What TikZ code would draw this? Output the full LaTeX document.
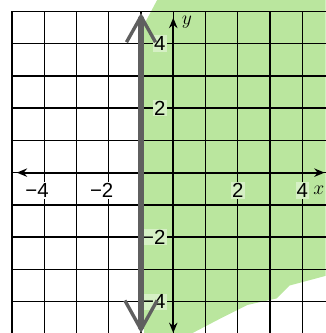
\documentclass[tikz,border=0pt]{standalone}
\usepackage{amsmath}
\usepackage{fontspec}
\setsansfont{Liberation Sans}
\usepackage{tikz}
\usetikzlibrary{arrows.meta}
\definecolor{pencilgreen}{RGB}{186,230,158}
\definecolor{pencilgray}{RGB}{95,95,95}
\newcommand{\negsign}{\char"2212\relax}
\tikzset{
    grid line/.style={black, line width=1.2pt},
    axis line/.style={black, line width=1.8pt, {Stealth[length=3.2mm,width=2.6mm]}-{Stealth[length=3.2mm,width=2.6mm]}},
    boundary line/.style={pencilgray, line width=4.5pt, line cap=round,
        {Straight Barb[length=9mm,width=10mm,line width=3pt]}-{Straight Barb[length=8mm,width=9mm,line width=3pt]}},
    tick label/.style={font=\sffamily\fontsize{18}{18}\selectfont, fill=white, inner sep=1pt},
    shaded label/.style={tick label, fill=pencilgreen!60!white},
    axis name/.style={font=\fontsize{17}{17}\selectfont, inner sep=1pt}
}

\begin{document}
\begin{tikzpicture}
    \useasboundingbox (-5.37,-4.97) rectangle (4.72,5.35);
    % shaded half plane x > -1
    \fill[pencilgreen] (-0.9,4.6) -- (-0.5,5.35) -- (4.72,5.35) -- (4.72,-3.2) -- (3.6,-3.5)
        -- (3.2,-3.9) -- (2.3,-4.1) -- (1.5,-4.5) -- (0.6,-4.97) -- (-0.9,-4.97) -- cycle;
    % grid
    \foreach \x in {-5,...,4}
        \draw[grid line] (\x,5) -- (\x,-4.97);
    \foreach \y in {-4,...,5}
        \draw[grid line] (-5,\y) -- (4.72,\y);
    % axes
    \coordinate (xmin) at (-4.85,0);
    \coordinate (xmax) at (4.69,0);
    \coordinate (ymin) at (0,-4.97);
    \coordinate (ymax) at (0,4.8);
    \draw[axis line] (xmin) -- (xmax);
    \draw[axis line] (ymin) -- (ymax);
    \node[axis name, anchor=east] (xname) at (4.72,-0.55) {$x$};
    \node[axis name] (yname) at (0.42,4.65) {$y$};
    % tick labels
    \foreach \v in {2,4}{
        \node[tick label] (xm\v) at (-\v-0.22,-0.55) {\negsign\v};
        \node[shaded label] (xp\v) at (\v,-0.55) {\v};
        \node[shaded label, anchor=east] (yp\v) at (-0.2,\v) {\v};
        \node[shaded label, anchor=east] (ym\v) at (-0.2,-\v) {\negsign\v};
    }
    % boundary x = -1
    \coordinate (btop) at (-1,4.95);
    \coordinate (bbot) at (-1,-4.97);
    \draw[boundary line] (bbot) -- (btop);
\end{tikzpicture}
\end{document}
